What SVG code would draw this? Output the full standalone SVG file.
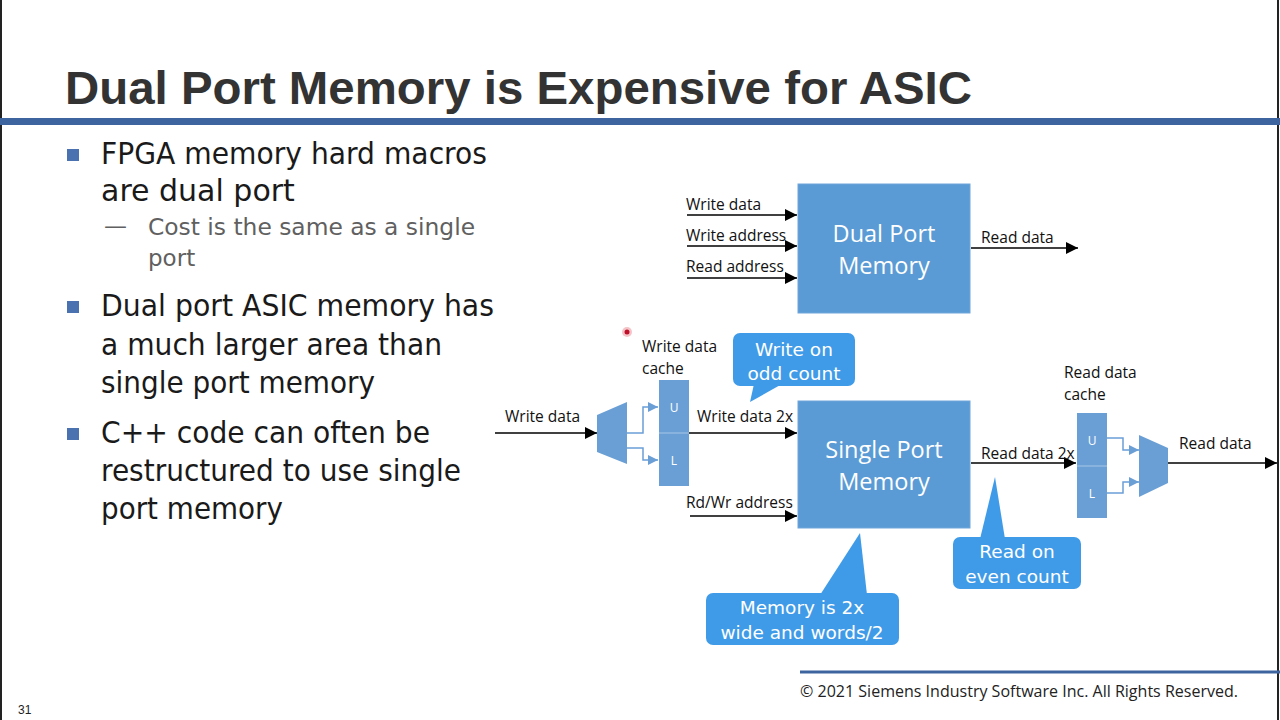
<svg xmlns="http://www.w3.org/2000/svg" width="1280" height="720" viewBox="0 0 1280 720">
<defs>
<style>
.title{font-family:"Liberation Sans",Arial,sans-serif;font-weight:bold;font-size:46px;fill:#333333}
.body{font-family:"DejaVu Sans",Verdana,sans-serif;font-size:30px;fill:#1a1a1a}
.sub{font-family:"DejaVu Sans",Verdana,sans-serif;font-size:23px;fill:#606060}
.lbl{font-family:"Open Sans","Liberation Sans",sans-serif;font-size:15.5px;fill:#111}
.box{fill:#5b9bd5;stroke:#6fa6da;stroke-width:1}
.boxt{font-family:"Open Sans","Liberation Sans",sans-serif;font-size:23.5px;fill:#ffffff;text-anchor:middle}
.cache{fill:#6a9fd6}
.ul{font-family:"Open Sans","Liberation Sans",sans-serif;font-size:12px;fill:#ffffff;text-anchor:middle}
.call{fill:#3f9be8}
.callt{font-family:"DejaVu Sans",Verdana,sans-serif;font-size:18.5px;fill:#ffffff;text-anchor:middle}
.wire{stroke:#000;stroke-width:1.5;fill:none}
.bw{stroke:#6a9fd6;stroke-width:1.5;fill:none}
.bullet{fill:#4a72b0}
</style>
<marker id="ah" viewBox="0 0 10 10" refX="10" refY="5" markerWidth="12" markerHeight="12" markerUnits="userSpaceOnUse" orient="auto"><path d="M0,0 L10,5 L0,10 z" fill="#000"/></marker>
<marker id="bh" viewBox="0 0 10 10" refX="10" refY="5" markerWidth="10" markerHeight="10" markerUnits="userSpaceOnUse" orient="auto"><path d="M0,0 L10,5 L0,10 z" fill="#6a9fd6"/></marker>
</defs>
<rect x="0" y="0" width="1280" height="720" fill="#ffffff"/>
<line x1="1" y1="0" x2="1" y2="720" stroke="#222" stroke-width="2"/>
<line x1="1278" y1="0" x2="1278" y2="720" stroke="#222" stroke-width="2"/>

<text class="title" x="65" y="104" textLength="907" lengthAdjust="spacingAndGlyphs">Dual Port Memory is Expensive for ASIC</text>
<rect x="0" y="118" width="1280" height="7" fill="#3e64a0"/>

<g id="bullets">
<rect class="bullet" x="67" y="149" width="12" height="12"/>
<text class="body" x="101" y="164" textLength="386" lengthAdjust="spacingAndGlyphs">FPGA memory hard macros</text>
<text class="body" x="101" y="201">are dual port</text>
<text class="sub" x="104" y="234">—</text>
<text class="sub" x="148" y="235" textLength="327" lengthAdjust="spacingAndGlyphs">Cost is the same as a single</text>
<text class="sub" x="148" y="266">port</text>
<rect class="bullet" x="67" y="301" width="12" height="12"/>
<text class="body" x="101" y="316" textLength="393" lengthAdjust="spacingAndGlyphs">Dual port ASIC memory has</text>
<text class="body" x="101" y="355" textLength="341" lengthAdjust="spacingAndGlyphs">a much larger area than</text>
<text class="body" x="101" y="393" textLength="274" lengthAdjust="spacingAndGlyphs">single port memory</text>
<rect class="bullet" x="67" y="428" width="12" height="12"/>
<text class="body" x="101" y="443" textLength="329" lengthAdjust="spacingAndGlyphs">C++ code can often be</text>
<text class="body" x="101" y="481" textLength="360" lengthAdjust="spacingAndGlyphs">restructured to use single</text>
<text class="body" x="101" y="519" textLength="182" lengthAdjust="spacingAndGlyphs">port memory</text>
</g>

<g id="connectors">
<line class="wire" x1="687" y1="215" x2="797" y2="215" marker-end="url(#ah)"/>
<line class="wire" x1="687" y1="246" x2="797" y2="246" marker-end="url(#ah)"/>
<line class="wire" x1="687" y1="278" x2="797" y2="278" marker-end="url(#ah)"/>
<line class="wire" x1="971" y1="248" x2="1078" y2="248" marker-end="url(#ah)"/>
<line class="wire" x1="495" y1="433" x2="597" y2="433" marker-end="url(#ah)"/>
<polyline class="bw" points="627,433 643,433 643,407 658,407" marker-end="url(#bh)"/>
<polyline class="bw" points="627,448 643,448 643,460 658,460" marker-end="url(#bh)"/>
<line class="wire" x1="689" y1="433" x2="797" y2="433" marker-end="url(#ah)"/>
<line class="wire" x1="690" y1="516" x2="797" y2="516" marker-end="url(#ah)"/>
<line class="wire" x1="971" y1="463" x2="1076" y2="463" marker-end="url(#ah)"/>
<polyline class="bw" points="1107,438 1123,438 1123,450 1139,450" marker-end="url(#bh)"/>
<polyline class="bw" points="1107,493 1123,493 1123,482 1139,482" marker-end="url(#bh)"/>
<line class="wire" x1="1168" y1="463" x2="1277" y2="463" marker-end="url(#ah)"/>
</g>

<g id="labels">
<text class="lbl" x="686" y="210">Write data</text>
<text class="lbl" x="686" y="241">Write address</text>
<text class="lbl" x="686" y="272">Read address</text>
<text class="lbl" x="981" y="243">Read data</text>
<text class="lbl" x="505" y="422">Write data</text>
<text class="lbl" x="642" y="352">Write data</text>
<text class="lbl" x="642" y="374">cache</text>
<text class="lbl" x="697" y="422">Write data 2x</text>
<text class="lbl" x="686" y="508">Rd/Wr address</text>
<text class="lbl" x="981" y="459">Read data 2x</text>
<text class="lbl" x="1064" y="378">Read data</text>
<text class="lbl" x="1064" y="400">cache</text>
<text class="lbl" x="1179" y="449">Read data</text>
</g>

<g id="dual-port-memory">
<rect class="box" x="798" y="184" width="172" height="129"/>
<text class="boxt" x="884" y="242">Dual Port</text>
<text class="boxt" x="884" y="274">Memory</text>
</g>

<g id="single-port-memory">
<rect class="box" x="798" y="401" width="172" height="127"/>
<text class="boxt" x="884" y="458">Single Port</text>
<text class="boxt" x="884" y="490">Memory</text>
</g>

<g id="demux">
<polygon class="cache" points="597,415 627,402 627,464 597,452"/>
</g>

<g id="write-cache">
<rect class="cache" x="659" y="380" width="30" height="106"/>
<line x1="659" y1="433" x2="689" y2="433" stroke="#a9c6e8" stroke-width="1"/>
<text class="ul" x="674" y="412">U</text>
<text class="ul" x="674" y="465">L</text>
</g>

<g id="read-cache">
<rect class="cache" x="1077" y="413" width="30" height="105"/>
<line x1="1077" y1="466" x2="1107" y2="466" stroke="#a9c6e8" stroke-width="1"/>
<text class="ul" x="1092" y="445">U</text>
<text class="ul" x="1092" y="498">L</text>
</g>

<g id="mux">
<polygon class="cache" points="1139,435 1168,448 1168,483 1139,497"/>
</g>

<g id="callout-write">
<rect class="call" x="733" y="333" width="122" height="53" rx="7"/>
<polygon class="call" points="754,384 782,384 750,402"/>
<text class="callt" x="794" y="356">Write on</text>
<text class="callt" x="794" y="380">odd count</text>
</g>

<g id="callout-read">
<rect class="call" x="953" y="537" width="128" height="52" rx="7"/>
<polygon class="call" points="980,539 1005,539 995,477"/>
<text class="callt" x="1017" y="558">Read on</text>
<text class="callt" x="1017" y="583">even count</text>
</g>

<g id="callout-memory">
<rect class="call" x="706" y="593" width="193" height="52" rx="7"/>
<polygon class="call" points="820,595 867,595 860,533"/>
<text class="callt" x="802" y="614">Memory is 2x</text>
<text class="callt" x="802" y="639">wide and words/2</text>
</g>

<circle cx="627" cy="332" r="5" fill="#f4c4c8"/>
<circle cx="627" cy="332" r="2.5" fill="#c0102a"/>

<line x1="800" y1="672" x2="1280" y2="672" stroke="#3e64a0" stroke-width="3"/>
<text x="800" y="697" font-family="Open Sans, Liberation Sans, sans-serif" font-size="15.5" fill="#222" textLength="438" lengthAdjust="spacingAndGlyphs">© 2021 Siemens Industry Software Inc. All Rights Reserved.</text>
<text x="18" y="714" font-family="Liberation Sans, Arial, sans-serif" font-size="12" fill="#222">31</text>
</svg>
